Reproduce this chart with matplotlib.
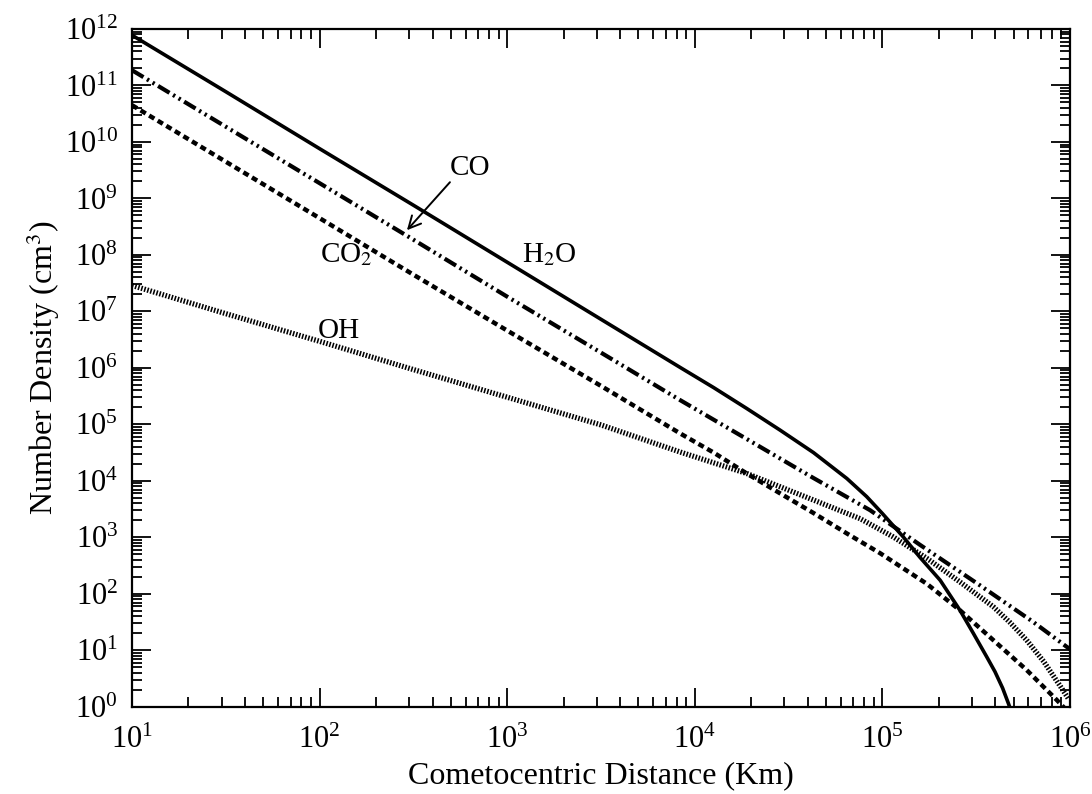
import matplotlib
matplotlib.use("Agg")
import matplotlib.pyplot as plt
from matplotlib.ticker import LogLocator, LogFormatterMathtext, NullFormatter

# ---- data ----
h2o_x = [1e1, 3.16e1, 1e2, 3.16e2, 1e3, 3.16e3, 8.34e3, 1.26e4, 1.89e4, 2.84e4,
         4.29e4, 6.46e4, 8.24e4, 1e5, 1.29e5, 1.58e5, 2.03e5, 2.59e5, 3.05e5,
         3.6e5, 3.98e5, 4.37e5, 4.69e5, 5.0e5]
h2o_y = [7.76e11, 7.76e10, 7.59e9, 7.59e8, 7.41e7, 7.24e6, 1.02e6, 4.47e5, 1.91e5,
         7.94e4, 3.16e4, 1.1e4, 5.25e3, 2.63e3, 1.02e3, 447, 174, 51, 20, 7.6,
         4.17, 2.14, 1.15, 0.63]

co_x = [1e1, 3.16e1, 1e2, 3.16e2, 1e3, 3.16e3, 8.34e3, 1.89e4, 4.29e4, 8.59e4,
        1.58e5, 3.31e5, 6.37e5, 9.6e5, 1e6]
co_y = [1.86e11, 1.86e10, 1.86e9, 1.86e8, 1.82e7, 1.86e6, 2.69e5, 5.5e4, 1.12e4,
        3.02e3, 741, 141, 31.6, 11.5, 10.5]

co2_x = [1e1, 3.16e1, 1e2, 3.16e2, 1e3, 3.16e3, 8.34e3, 1.26e4, 1.89e4, 2.84e4,
         4.29e4, 6.46e4, 9.7e4, 1.72e5, 2.59e5, 3.9e5, 5.87e5, 8.49e5, 9.33e5]
co2_y = [4.47e10, 4.47e9, 4.47e8, 4.47e7, 4.57e6, 4.79e5, 6.92e4, 3.16e4, 1.35e4,
         6.03e3, 2.69e3, 1.17e3, 525, 151, 51, 15.1, 4.47, 1.32, 0.95]

oh_x = [1e1, 3.16e1, 1e2, 3.16e2, 1e3, 3.16e3, 8.34e3, 1.89e4, 4.29e4, 7.6e4,
        1.14e5, 1.72e5, 2.59e5, 3.9e5, 4.79e5, 5.87e5, 7.24e5, 8.85e5, 9.77e5]
oh_y = [2.88e7, 9.12e6, 2.95e6, 9.33e5, 3.02e5, 9.77e4, 3.24e4, 1.35e4, 4.57e3,
        2.14e3, 1.02e3, 427, 162, 58.9, 30.9, 15.1, 6.31, 2.34, 1.41]

x_label = "Cometocentric Distance (Km)"
y_label = r"Number Density (cm$^{3}$)"

# ---- style ----
plt.rcParams['font.family'] = ['Liberation Serif', 'DejaVu Serif']
plt.rcParams['mathtext.fontset'] = 'stix'

fig = plt.figure(figsize=(10.92, 7.94), dpi=100)
ax = fig.add_axes([0.1209, 0.1099, 0.8590, 0.8536])

ax.plot(h2o_x, h2o_y, color='black', lw=2.6, solid_capstyle='butt',
        solid_joinstyle='round')
ax.plot(co_x, co_y, color='black', lw=3.0,
        linestyle=(0, (3.2, 1.0, 0.55, 1.0, 0.55, 1.0)))
ax.plot(co2_x, co2_y, color='black', lw=3.2, linestyle=(0, (1.35, 0.9)))
ax.plot(oh_x, oh_y, color='black', lw=3.8, linestyle=(0, (0.3, 0.3)))

ax.set_xscale('log')
ax.set_yscale('log')
ax.set_xlim(1e1, 1e6)
ax.set_ylim(1e0, 1e12)

ax.xaxis.set_major_locator(LogLocator(base=10, numticks=20))
ax.yaxis.set_major_locator(LogLocator(base=10, numticks=20))
ax.xaxis.set_minor_locator(LogLocator(base=10, subs=range(2, 10), numticks=100))
ax.yaxis.set_minor_locator(LogLocator(base=10, subs=range(2, 10), numticks=100))
ax.xaxis.set_major_formatter(LogFormatterMathtext())
ax.yaxis.set_major_formatter(LogFormatterMathtext())
ax.xaxis.set_minor_formatter(NullFormatter())
ax.yaxis.set_minor_formatter(NullFormatter())

ax.tick_params(which='both', direction='in', top=True, right=True, width=1.3)
ax.tick_params(which='major', length=14, labelsize=22)
ax.tick_params(which='minor', length=7)
ax.tick_params(axis='x', which='major', pad=14)
ax.tick_params(axis='y', which='major', pad=10)
for s in ax.spines.values():
    s.set_linewidth(1.6)

ax.set_xlabel(x_label, fontsize=23, labelpad=4)
ax.set_ylabel(y_label, fontsize=23, labelpad=2)

# ---- annotations ----
ax.text(495, 10**9.41, "CO", fontsize=21, ha='left', va='baseline')
ax.annotate("", xy=(292, 10**8.437), xytext=(495, 10**9.287),
            arrowprops=dict(arrowstyle='->', color='black', lw=1.4,
                            mutation_scale=22, shrinkA=0, shrinkB=0))
ax.text(100, 10**7.87, r"CO$_2$", fontsize=21, ha='left', va='baseline')
ax.text(1200, 10**7.87, r"H$_2$O", fontsize=21, ha='left', va='baseline')
ax.text(98, 10**6.525, "OH", fontsize=21, ha='left', va='baseline')

fig.savefig("out.png", dpi=100)
